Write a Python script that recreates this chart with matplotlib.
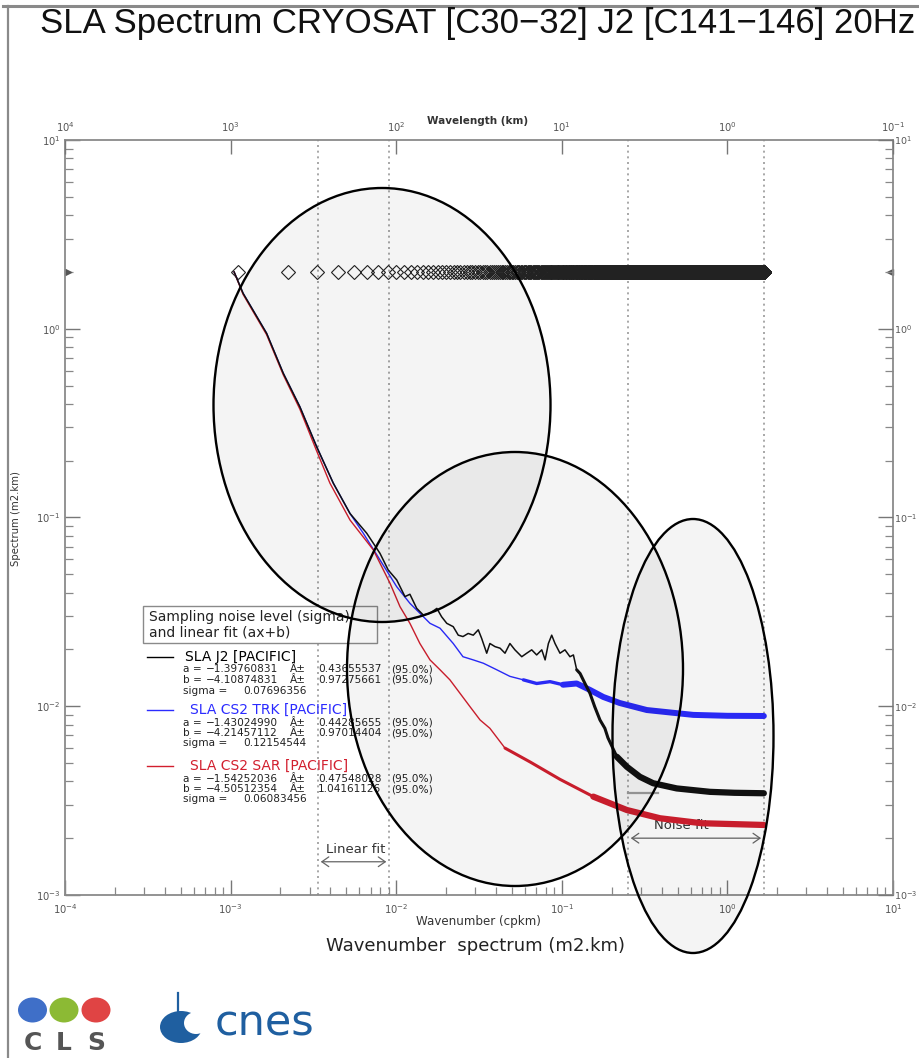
import numpy as np
import matplotlib
matplotlib.use("Agg")
import matplotlib.pyplot as plt
from matplotlib.patches import Ellipse, Rectangle
from matplotlib.lines import Line2D
from matplotlib.transforms import blended_transform_factory
from matplotlib.ticker import NullLocator

plt.rcParams['font.family'] = ['Liberation Sans', 'DejaVu Sans']

# ---------------- data ----------------
j2_k = [1.05e-3, 1.19e-3, 1.65e-3, 2.08e-3, 2.62e-3, 3.31e-3, 4.17e-3, 5.26e-3, 6.64e-3,
        7.98e-3, 8.95e-3, 0.01007, 0.0113, 0.0121, 0.0133, 0.0146, 0.0160, 0.0176, 0.0188,
        0.0202, 0.0221, 0.0237, 0.0253, 0.0272, 0.0292, 0.0313, 0.0328, 0.0352, 0.0368,
        0.0395, 0.0424, 0.0454, 0.0486, 0.0521, 0.0573, 0.0614, 0.0658, 0.0705, 0.0757,
        0.0793, 0.0830, 0.0869, 0.0910, 0.0975, 0.1045, 0.112, 0.1175, 0.123, 0.129,
        0.138, 0.148, 0.158, 0.170, 0.182, 0.19, 0.215, 0.247, 0.296, 0.356, 0.494,
        0.785, 1.10, 1.66]
j2_v = [2.0, 1.54, 0.946, 0.581, 0.386, 0.237, 0.152, 0.105, 0.0825,
        0.0646, 0.0527, 0.0467, 0.0381, 0.0392, 0.0330, 0.0304, 0.0311, 0.0330, 0.0298,
        0.0275, 0.0264, 0.0238, 0.0234, 0.0243, 0.0238, 0.0254, 0.0229, 0.0191, 0.0215,
        0.0207, 0.0203, 0.0191, 0.0215, 0.0199, 0.0183, 0.0191, 0.0199, 0.0187, 0.0199,
        0.0176, 0.0215, 0.0238, 0.0215, 0.0191, 0.0199, 0.0183, 0.0187, 0.0156, 0.0149,
        0.0132, 0.0117, 0.00995, 0.00846, 0.00764, 0.0068, 0.0054, 0.00478, 0.00423,
        0.00391, 0.00367, 0.00352, 0.00348, 0.00346]

trk_k = [1.05e-3, 1.19e-3, 1.65e-3, 2.08e-3, 2.62e-3, 3.31e-3, 4.17e-3, 5.26e-3, 6.33e-3,
         7.98e-3, 0.01007, 0.0121, 0.0139, 0.016, 0.0184, 0.0221, 0.0253, 0.0292, 0.0336,
         0.0405, 0.0486, 0.0586, 0.0705, 0.0849, 0.1017, 0.123, 0.148, 0.178, 0.224,
         0.326, 0.622, 1.0, 1.66]
trk_v = [2.0, 1.54, 0.946, 0.581, 0.386, 0.237, 0.152, 0.105, 0.0825,
         0.0596, 0.0430, 0.0351, 0.0311, 0.0275, 0.0259, 0.0215, 0.0183, 0.0176, 0.0169,
         0.0156, 0.0144, 0.0138, 0.0132, 0.0135, 0.0130, 0.0132, 0.0122, 0.0112, 0.0104,
         0.00955, 0.0090, 0.0089, 0.00888]

sar_k = [1.05e-3, 1.19e-3, 1.65e-3, 2.08e-3, 2.62e-3, 3.31e-3, 3.98e-3, 5.26e-3, 7.28e-3,
         9.18e-3, 0.01054, 0.0121, 0.0139, 0.016, 0.0184, 0.0211, 0.0243, 0.0279, 0.0321,
         0.0368, 0.0454, 0.0643, 0.0975, 0.155, 0.247, 0.392, 0.7, 1.66]
sar_v = [2.0, 1.52, 0.93, 0.57, 0.375, 0.225, 0.152, 0.097, 0.0673,
         0.0448, 0.0337, 0.0275, 0.0215, 0.0176, 0.0156, 0.0138, 0.0117, 0.00995, 0.00846,
         0.00764, 0.0060, 0.00507, 0.0041, 0.00332, 0.00282, 0.00255, 0.0024, 0.00235]

# wavenumber bins of the spectrum (diamond markers at the top)
bin_width = 1.11e-3
n_bins = 1500
bin_level = 2.0

fit_limits = [3.37e-3, 9.06e-3]        # linear-fit band (cpkm)
noise_limits = [0.251, 1.66]           # noise-fit band (cpkm)
j2_noise_level = 3.47e-3

top_tick_k = [1e-4, 1e-3, 1e-2, 1e-1, 1e0, 1e1]
top_tick_labels = ['$10^{4}$', '$10^{3}$', '$10^{2}$', '$10^{1}$', '$10^{0}$', '$10^{-1}$']

legend_series = [
    ("SLA J2 [PACIFIC]", "black",
     "\u22121.39760831", "0.43655537", "\u22124.10874831", "0.97275661", "0.07696356"),
    ("SLA CS2 TRK [PACIFIC]", "#2b2bff",
     "\u22121.43024990", "0.44285655", "\u22124.21457112", "0.97014404", "0.12154544"),
    ("SLA CS2 SAR [PACIFIC]", "#d21f2e",
     "\u22121.54252036", "0.47548028", "\u22124.50512354", "1.04161126", "0.06083456"),
]

# ---------------- figure ----------------
W, H = 919, 1058
fig = plt.figure(figsize=(W / 100, H / 100), dpi=100)
fig.patch.set_facecolor('white')


def fx(x):
    return x / W


def fy(y):
    return 1 - y / H


L, R, T, B = 65, 893, 140, 895
ax = fig.add_axes([fx(L), fy(B), (R - L) / W, (B - T) / H])
ax.set_xscale('log')
ax.set_yscale('log')
ax.set_xlim(1e-4, 1e1)
ax.set_ylim(1e-3, 1e1)
ax.set_facecolor('none')

for s in ax.spines.values():
    s.set_color('#8a8a8a')
    s.set_linewidth(1.3)

ax.tick_params(which='major', direction='in', length=11, width=1.0, color='#777777',
               labelsize=7.2, labelcolor='#555555', pad=5)
ax.tick_params(which='minor', direction='in', length=5.5, width=0.9, color='#888888')
ax.tick_params(axis='y', which='both', left=True, right=False, labelleft=True, labelright=False)
ax.tick_params(axis='y', which='major', pad=3)
ax.tick_params(axis='x', which='both', top=False, bottom=True)
for lab in ax.get_xticklabels() + ax.get_yticklabels():
    lab.set_family('DejaVu Sans')

# top axis: wavelength
axt = ax.twiny()
axt.set_xscale('log')
axt.set_xlim(ax.get_xlim())
axt.set_xticks(top_tick_k)
axt.set_xticklabels(top_tick_labels)
axt.xaxis.set_minor_locator(NullLocator())
axt.tick_params(axis='x', which='major', direction='in', length=10, width=1.0, color='#777777',
                labelsize=7.2, labelcolor='#555555', pad=4)
for s in axt.spines.values():
    s.set_visible(False)
for lab in axt.get_xticklabels():
    lab.set_family('DejaVu Sans')

# right axis: same spectrum scale
axr = ax.twinx()
axr.set_yscale('log')
axr.set_ylim(ax.get_ylim())
axr.tick_params(axis='y', which='major', direction='in', length=11, width=1.0, color='#777777',
                labelsize=6.8, labelcolor='#555555', pad=1)
axr.tick_params(axis='y', which='minor', direction='in', length=5.5, width=0.9, color='#888888')
for s in axr.spines.values():
    s.set_visible(False)
for lab in axr.get_yticklabels():
    lab.set_family('DejaVu Sans')

# dotted vertical lines
for kv in fit_limits + noise_limits:
    ax.axvline(kv, color='#9a9a9a', ls=(0, (1.2, 2.2)), lw=1.2, zorder=1)

# noise level marker
ax.plot([noise_limits[0], 0.38], [j2_noise_level, j2_noise_level], color='#a0a0a0', lw=1.6, zorder=1.5)

# diamonds (bins)
bins_k = bin_width * np.arange(1, n_bins + 1)
ax.plot(bins_k, np.full(n_bins, bin_level), ls='none', marker='D', ms=7, mfc='none',
        mec='#222222', mew=0.8, zorder=3)

# side arrow markers at bin level
bt = blended_transform_factory(ax.transAxes, ax.transData)
ax.plot([0.004], [bin_level], marker='>', ms=4, color='#555555', transform=bt, clip_on=False)
ax.plot([0.996], [bin_level], marker='<', ms=4, color='#555555', transform=bt, clip_on=False)


def draw(kk, vv, color, thin_lw, mid_from, mid_lw, thick_from, thick_lw, zo):
    kk = np.asarray(kk)
    vv = np.asarray(vv)
    ax.plot(kk, vv, color=color, lw=thin_lw, zorder=zo)
    m = kk >= mid_from
    ax.plot(kk[m], vv[m], color=color, lw=mid_lw, zorder=zo, solid_joinstyle='round',
            solid_capstyle='round')
    m = kk >= thick_from
    ax.plot(kk[m], vv[m], color=color, lw=thick_lw, zorder=zo, solid_joinstyle='round',
            solid_capstyle='round')


draw(trk_k, trk_v, '#2b2bff', 1.0, 0.05, 2.4, 0.09, 4.3, 4)
draw(sar_k, sar_v, '#d21f2e', 1.0, 0.045, 2.2, 0.12, 4.5, 4.2)
draw(j2_k, j2_v, '#111111', 1.1, 0.12, 2.2, 0.2, 4.5, 4.4)

# linear fit / noise fit arrows
ax.annotate('', xy=(fit_limits[1], 1.5e-3), xytext=(fit_limits[0], 1.5e-3),
            arrowprops=dict(arrowstyle='<->,head_length=0.5,head_width=0.35', color='#666666', lw=0.9),
            zorder=2)
ax.text(5.7e-3, 1.75e-3, 'Linear fit', ha='center', va='center', fontsize=9.5,
        family='DejaVu Sans', color='#333333', zorder=2)
ax.annotate('', xy=(noise_limits[1], 2.0e-3), xytext=(noise_limits[0], 2.0e-3),
            arrowprops=dict(arrowstyle='<->,head_length=0.5,head_width=0.35', color='#666666', lw=0.9),
            zorder=2)
ax.text(0.53, 2.33e-3, 'Noise fit', ha='center', va='center', fontsize=9.5,
        family='DejaVu Sans', color='#333333', zorder=2)

# ---------------- legend ----------------
fig.add_artist(Rectangle((fx(143), fy(643)), (377 - 143) / W, (643 - 606) / H,
                         transform=fig.transFigure, facecolor='white', edgecolor='#8a8a8a',
                         lw=1.0, zorder=3))
fig.text(fx(149), fy(617), 'Sampling noise level (sigma)', fontsize=10, family='DejaVu Sans',
         va='center', ha='left', color='#222222', zorder=3.5)
fig.text(fx(149), fy(632), 'and linear fit (ax+b)', fontsize=10, family='DejaVu Sans',
         va='center', ha='left', color='#222222', zorder=3.5)

small = dict(fontsize=7.6, family='DejaVu Sans', color='#222222', va='center', zorder=3.5)
entry_y = [657, 710, 766]
for (name, col, a, ae, b, be, sg), y0 in zip(legend_series, entry_y):
    fig.add_artist(Line2D([fx(147), fx(173)], [fy(y0), fy(y0)], transform=fig.transFigure,
                          color=col, lw=1.0, zorder=3.5))
    xoff = 185 if col == 'black' else 190
    fig.text(fx(xoff), fy(y0), name, fontsize=10, family='DejaVu Sans', color=col,
             va='center', ha='left', zorder=3.5)
    rows = [(y0 + 12.5, 'a =', a, ae), (y0 + 23, 'b =', b, be)]
    for yy, lab, v1, v2 in rows:
        fig.text(fx(183), fy(yy), lab, **small)
        fig.text(fx(206), fy(yy), v1, **small)
        fig.text(fx(290), fy(yy), '\u00c2\u00b1', **small)
        fig.text(fx(318), fy(yy), v2, **small)
        fig.text(fx(391), fy(yy), '(95.0%)', **small)
    fig.text(fx(183), fy(y0 + 33.5), 'sigma =', **small)
    fig.text(fx(243), fy(y0 + 33.5), sg, **small)

# ---------------- ellipses ----------------
for cx, cy, w, h in [(382, 405, 337, 434), (515, 669, 336, 434), (693, 736, 161, 434)]:
    fig.add_artist(Ellipse((fx(cx), fy(cy)), w / W, h / H, transform=fig.transFigure,
                           facecolor=(0, 0, 0, 0.045), edgecolor='black', lw=1.7, zorder=5))

# ---------------- texts ----------------
fig.text(fx(40), fy(23), 'SLA Spectrum CRYOSAT [C30\u221232] J2 [C141\u2212146] 20Hz',
         fontsize=25, ha='left', va='center', color='#111111')
fig.text(fx(478), fy(121), 'Wavelength (km)', fontsize=7.5, fontweight='bold',
         family='DejaVu Sans', ha='center', va='center', color='#333333')
fig.text(fx(478), fy(921), 'Wavenumber (cpkm)', fontsize=8.6, family='DejaVu Sans',
         ha='center', va='center', color='#333333')
fig.text(fx(475), fy(946), 'Wavenumber  spectrum (m2.km)', fontsize=13, family='DejaVu Sans',
         ha='center', va='center', color='#222222')
fig.text(fx(16), fy(519), 'Spectrum (m2.km)', fontsize=7.3, family='DejaVu Sans', rotation=90,
         ha='center', va='center', color='#333333')

# frame lines
fig.add_artist(Line2D([fx(3), fx(919)], [fy(6), fy(6)], transform=fig.transFigure,
                      color='#8a8a8a', lw=2.2))
fig.add_artist(Line2D([fx(8), fx(8)], [fy(6), fy(1058)], transform=fig.transFigure,
                      color='#8a8a8a', lw=1.6))

# ---------------- logos ----------------
for cxl, col, letter in [(32.5, '#3f6fc8', 'C'), (64, '#8cba34', 'L'), (96, '#e04444', 'S')]:
    fig.add_artist(Ellipse((fx(cxl), fy(1010)), 29 / W, 25 / H, transform=fig.transFigure,
                           facecolor=col, edgecolor='none', zorder=6))
    fig.text(fx(cxl), fy(1043), letter, fontsize=18, fontweight='bold', family='DejaVu Sans',
             ha='center', va='center', color='#555555')

fig.add_artist(Ellipse((fx(181), fy(1027)), 42 / W, 32 / H, transform=fig.transFigure,
                       facecolor='#1f5fa0', edgecolor='none', zorder=6))
fig.add_artist(Ellipse((fx(196), fy(1023)), 24 / W, 22 / H, transform=fig.transFigure,
                       facecolor='white', edgecolor='none', zorder=6.1))
fig.add_artist(Line2D([fx(178), fx(178)], [fy(993), fy(1016)], transform=fig.transFigure,
                      color='#1f5fa0', lw=1.6, zorder=6.2))
fig.text(fx(215), fy(1023), 'cnes', fontsize=31, family='DejaVu Sans', ha='left',
         va='center', color='#1f5fa0')

fig.savefig('out.png', dpi=100)
